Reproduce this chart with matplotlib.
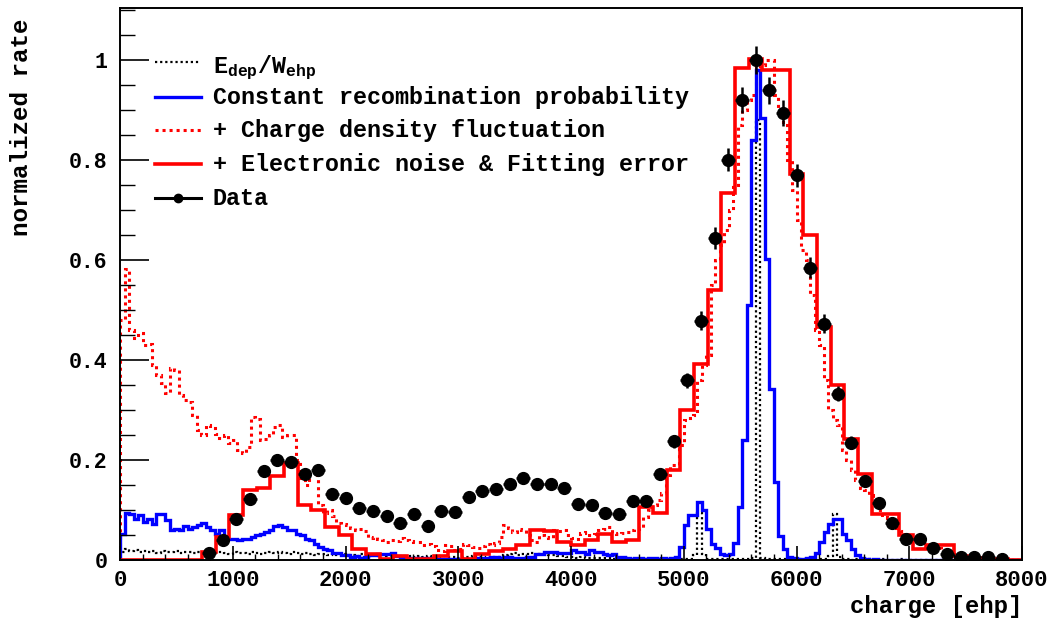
import numpy as np
import matplotlib
matplotlib.use('Agg')
import matplotlib.pyplot as plt
from matplotlib.lines import Line2D
from matplotlib.ticker import MultipleLocator, FormatStrFormatter

plt.rcParams['font.family'] = ['Liberation Mono', 'DejaVu Sans Mono']
plt.rcParams['font.weight'] = 'bold'
plt.rcParams['mathtext.fontset'] = 'custom'
plt.rcParams['mathtext.rm'] = 'Liberation Mono:bold'
plt.rcParams['mathtext.bf'] = 'Liberation Mono:bold'

# coarse binning (66 bins over 0-8000 ehp): data and full simulation
coarse_edges = np.linspace(0, 8000, 67)
# fine binning (200 bins over 0-8000 ehp): intermediate simulations
fine_edges = np.linspace(0, 8000, 201)

# data, bins 6..64
data_first_bin = 6
data_y = [0.015, 0.041, 0.083, 0.123, 0.178, 0.201, 0.196, 0.173, 0.181, 0.133,
          0.125, 0.105, 0.099, 0.088, 0.074, 0.093, 0.069, 0.099, 0.097, 0.127,
          0.139, 0.143, 0.152, 0.165, 0.153, 0.153, 0.145, 0.113, 0.110, 0.095,
          0.093, 0.119, 0.119, 0.172, 0.238, 0.360, 0.479, 0.645, 0.801, 0.921,
          1.000, 0.940, 0.895, 0.770, 0.585, 0.473, 0.333, 0.235, 0.158, 0.115,
          0.075, 0.043, 0.042, 0.025, 0.012, 0.007, 0.006, 0.006, 0.003]
data_err = [0.005, 0.007, 0.009, 0.010, 0.012, 0.012, 0.012, 0.012, 0.012, 0.010,
            0.010, 0.009, 0.009, 0.009, 0.008, 0.009, 0.008, 0.009, 0.009, 0.010,
            0.011, 0.011, 0.011, 0.012, 0.011, 0.011, 0.011, 0.010, 0.010, 0.009,
            0.009, 0.010, 0.010, 0.012, 0.013, 0.015, 0.019, 0.022, 0.023, 0.026,
            0.028, 0.027, 0.026, 0.023, 0.021, 0.019, 0.015, 0.013, 0.011, 0.010,
            0.008, 0.006, 0.006, 0.005, 0.004, 0.003, 0.003, 0.003, 0.002]

# + Electronic noise & Fitting error (coarse)
full_sim = [0, 0, 0, 0, 0, 0, 0.017, 0.047, 0.090, 0.140,
            0.145, 0.168, 0.195, 0.110, 0.100, 0.067, 0.050, 0.022, 0.013, 0.002,
            0.008, 0.002, 0.002, 0.008, 0.018, 0.003, 0.013, 0.018, 0.022, 0.030,
            0.060, 0.058, 0.037, 0.030, 0.040, 0.052, 0.037, 0.040, 0.106, 0.094,
            0.180, 0.300, 0.393, 0.540, 0.735, 0.985, 1.003, 0.980, 0.980, 0.773,
            0.650, 0.467, 0.350, 0.242, 0.173, 0.093, 0.093, 0.050, 0.023, 0.030,
            0.030, 0.008, 0.004, 0.003, 0.002, 0.0]

# E_dep / W_ehp (fine)
edep = [0.016, 0.022, 0.018, 0.020, 0.017, 0.019, 0.016, 0.018, 0.015, 0.019,
        0.017, 0.016, 0.018, 0.015, 0.017, 0.016, 0.014, 0.017, 0.015, 0.016,
        0.014, 0.016, 0.017, 0.015, 0.013, 0.016, 0.014, 0.015, 0.013, 0.016,
        0.014, 0.012, 0.015, 0.016, 0.014, 0.017, 0.015, 0.013, 0.016, 0.014,
        0.012, 0.014, 0.013, 0.011, 0.013, 0.012, 0.010, 0.013, 0.011, 0.012,
        0.010, 0.011, 0.009, 0.012, 0.010, 0.009, 0.011, 0.008, 0.010, 0.009,
        0.008, 0.009, 0.007, 0.008, 0.009, 0.007, 0.008, 0.006, 0.008, 0.007,
        0.006, 0.008, 0.007, 0.006, 0.007, 0.005, 0.007, 0.006, 0.008, 0.006,
        0.007, 0.005, 0.006, 0.007, 0.006, 0.010, 0.012, 0.014, 0.011, 0.013,
        0.012, 0.014, 0.011, 0.012, 0.013, 0.010, 0.011, 0.009, 0.008, 0.007,
        0.006, 0.005, 0.006, 0.005, 0.004, 0.005, 0.004, 0.005, 0.004, 0.003,
        0.004, 0.003, 0.004, 0.003, 0.003, 0.002, 0.003, 0.002, 0.003, 0.002,
        0.002, 0.003, 0.002, 0.002, 0.003, 0.002, 0.003, 0.010, 0.095, 0.012,
        0.002, 0.003, 0.002, 0.002, 0.003, 0.002, 0.002, 0.003, 0.002, 0.003,
        0.004, 0.880, 0.004, 0.003, 0.002, 0.003, 0.002, 0.002, 0.003, 0.002,
        0.002, 0.003, 0.002, 0.002, 0.002, 0.003, 0.002, 0.008, 0.092, 0.006,
        0.002, 0.002, 0.001, 0.002, 0.002, 0.001, 0.002, 0.001, 0.001, 0.002,
        0.001, 0.001, 0.001, 0.002, 0.001, 0.001, 0.001, 0.0, 0.001, 0.001,
        0.0, 0.001, 0.0, 0.0, 0.001, 0.0, 0.0, 0.0, 0.0, 0.0,
        0.0, 0.0, 0.0, 0.0, 0.0, 0.0, 0.0, 0.0, 0.0, 0.0]

# Constant recombination probability (fine)
const_rec = [0.053, 0.095, 0.092, 0.083, 0.090, 0.077, 0.083, 0.073, 0.093, 0.093,
             0.080, 0.060, 0.063, 0.060, 0.068, 0.063, 0.066, 0.070, 0.075, 0.066,
             0.060, 0.053, 0.060, 0.043, 0.042, 0.043, 0.040, 0.043, 0.043, 0.047,
             0.050, 0.053, 0.057, 0.060, 0.068, 0.071, 0.067, 0.061, 0.060, 0.053,
             0.050, 0.043, 0.040, 0.032, 0.027, 0.023, 0.020, 0.015, 0.014, 0.010,
             0.011, 0.006, 0.008, 0.005, 0.006, 0.010, 0.010, 0.012, 0.013, 0.013,
             0.015, 0.008, 0.007, 0.005, 0.004, 0.004, 0.003, 0.004, 0.003, 0.004,
             0.003, 0.002, 0.003, 0.002, 0.003, 0.002, 0.002, 0.003, 0.002, 0.005,
             0.005, 0.004, 0.006, 0.006, 0.005, 0.007, 0.006, 0.004, 0.005, 0.004,
             0.006, 0.006, 0.013, 0.012, 0.017, 0.016, 0.017, 0.015, 0.014, 0.015,
             0.020, 0.017, 0.016, 0.012, 0.021, 0.017, 0.016, 0.012, 0.011, 0.012,
             0.006, 0.007, 0.004, 0.003, 0.004, 0.004, 0.003, 0.004, 0.005, 0.003,
             0.004, 0.003, 0.005, 0.006, 0.027, 0.070, 0.090, 0.090, 0.117, 0.100,
             0.063, 0.033, 0.024, 0.013, 0.010, 0.013, 0.034, 0.107, 0.240, 0.510,
             0.840, 0.980, 0.884, 0.603, 0.343, 0.157, 0.048, 0.022, 0.007, 0.004,
             0.003, 0.003, 0.005, 0.007, 0.015, 0.037, 0.057, 0.073, 0.083, 0.083,
             0.053, 0.040, 0.023, 0.010, 0.004, 0.002, 0.001, 0.002, 0.001, 0.001,
             0.001, 0.001, 0.001, 0.0, 0.001, 0.0, 0.001, 0.0, 0.0, 0.001,
             0.0, 0.0, 0.0, 0.0, 0.0, 0.0, 0.0, 0.0, 0.0, 0.0,
             0.0, 0.0, 0.0, 0.0, 0.0, 0.0, 0.0, 0.0, 0.0, 0.0]

# + Charge density fluctuation (fine)
density_fluc = [0.480, 0.583, 0.460, 0.445, 0.455, 0.430, 0.433, 0.390, 0.370, 0.355,
                0.335, 0.385, 0.380, 0.330, 0.320, 0.317, 0.290, 0.260, 0.250, 0.270,
                0.265, 0.253, 0.245, 0.250, 0.235, 0.240, 0.220, 0.215, 0.227, 0.287,
                0.283, 0.240, 0.243, 0.250, 0.267, 0.270, 0.247, 0.250, 0.250, 0.200,
                0.160, 0.150, 0.178, 0.170, 0.110, 0.095, 0.100, 0.088, 0.075, 0.072,
                0.070, 0.065, 0.060, 0.062, 0.058, 0.045, 0.047, 0.043, 0.040, 0.037,
                0.040, 0.038, 0.045, 0.040, 0.038, 0.036, 0.037, 0.030, 0.033, 0.028,
                0.020, 0.018, 0.030, 0.028, 0.020, 0.022, 0.033, 0.030, 0.027, 0.025,
                0.028, 0.033, 0.030, 0.035, 0.047, 0.070, 0.065, 0.057, 0.063, 0.060,
                0.050, 0.040, 0.037, 0.050, 0.047, 0.045, 0.060, 0.058, 0.060, 0.050,
                0.045, 0.043, 0.055, 0.057, 0.050, 0.052, 0.060, 0.062, 0.067, 0.055,
                0.053, 0.055, 0.057, 0.060, 0.062, 0.065, 0.087, 0.100, 0.110, 0.120,
                0.135, 0.170, 0.190, 0.190, 0.230, 0.280, 0.285, 0.290, 0.360, 0.390,
                0.410, 0.550, 0.600, 0.630, 0.660, 0.700, 0.750, 0.870, 0.900, 0.920,
                0.930, 0.985, 0.990, 1.000, 1.000, 0.930, 0.900, 0.870, 0.800, 0.740,
                0.680, 0.620, 0.600, 0.530, 0.460, 0.430, 0.360, 0.300, 0.280, 0.270,
                0.220, 0.200, 0.180, 0.160, 0.145, 0.140, 0.130, 0.115, 0.100, 0.090,
                0.085, 0.075, 0.065, 0.058, 0.050, 0.045, 0.040, 0.038, 0.035, 0.030,
                0.028, 0.025, 0.020, 0.016, 0.012, 0.010, 0.008, 0.006, 0.005, 0.004,
                0.002, 0.003, 0.002, 0.001, 0.002, 0.001, 0.001, 0.0, 0.001, 0.0]

xticks = [0, 1000, 2000, 3000, 4000, 5000, 6000, 7000, 8000]
yticks = [0, 0.2, 0.4, 0.6, 0.8, 1.0]

legend_labels = [r'E$_{\rm dep}$/W$_{\rm ehp}$',
                 'Constant recombination probability',
                 '+ Charge density fluctuation',
                 '+ Electronic noise & Fitting error',
                 'Data']

W, H = 1056, 619
fig = plt.figure(figsize=(W / 100, H / 100), dpi=100)
ax = fig.add_axes([120 / W, 59 / H, 902 / W, 552 / H])

black_dot = (0, (1, 1.3))
red_dot = (0, (1, 1.3))
ax.stairs(edep, fine_edges, color='black', lw=1.6, ls=black_dot, baseline=0)
ax.stairs(density_fluc, fine_edges, color='red', lw=2.2, ls=red_dot, baseline=0)
ax.stairs(const_rec, fine_edges, color='blue', lw=2.4, baseline=0)
ax.stairs(full_sim, coarse_edges, color='red', lw=2.6, baseline=0)

centers = 0.5 * (coarse_edges[:-1] + coarse_edges[1:])
halfw = 0.5 * np.diff(coarse_edges)
sel = slice(data_first_bin, data_first_bin + len(data_y))
ax.errorbar(centers[sel], data_y, yerr=data_err, xerr=halfw[sel], fmt='o',
            color='black', ms=8.5, elinewidth=1.8, capsize=0, zorder=5)

ax.set_xlim(0, 8000)
ax.set_ylim(0, 1.104)
ax.set_xticks(xticks)
ax.set_yticks(yticks)
ax.xaxis.set_minor_locator(MultipleLocator(200))
ax.yaxis.set_minor_locator(MultipleLocator(0.05))
ax.yaxis.set_major_formatter(FormatStrFormatter('%g'))
ax.tick_params(axis='x', which='major', direction='in', length=10, width=1.2,
               pad=7, labelsize=16, top=False)
ax.tick_params(axis='x', which='minor', direction='in', length=4.5, width=1.0, top=False)
ax.tick_params(axis='y', which='major', direction='in', length=21, width=1.2,
               pad=9, labelsize=15.5, right=False)
ax.tick_params(axis='y', which='minor', direction='in', length=10.5, width=1.0, right=False)
for s in ax.spines.values():
    s.set_linewidth(1.4)

fig.text(1022 / W, 1 - 606 / H, 'charge [ehp]', ha='right', va='center', fontsize=17.2)
fig.text(22 / W, 1 - 18 / H, 'normalized rate', rotation=90, ha='center', va='top',
         fontsize=17.5)

# legend, ROOT style: no frame, rows placed like in the original pad
styles = [dict(color='black', lw=1.6, ls=black_dot),
          dict(color='blue', lw=2.4),
          dict(color='red', lw=2.2, ls=red_dot),
          dict(color='red', lw=2.6),
          dict(color='black', lw=2.2, marker='o', ms=6, markevery=[1])]
row_y = [62, 97, 130, 164, 198]
baseline_off = [11, 7, 7, 7, 7]
for st, lab, yy, off in zip(styles, legend_labels, row_y, baseline_off):
    fig.add_artist(Line2D([155 / W, 178 / W, 201 / W], [1 - yy / H] * 3,
                          transform=fig.transFigure, **st))
    fig.text(213 / W, 1 - (yy + off) / H, lab, ha='left', va='baseline', fontsize=16.8)

fig.savefig('out.png', dpi=100)
